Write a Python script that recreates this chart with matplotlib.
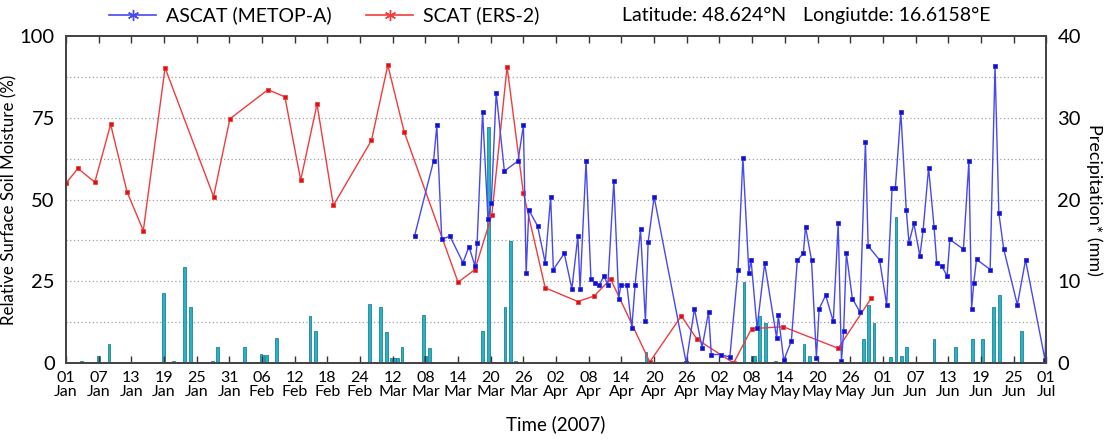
import numpy as np
import matplotlib
matplotlib.use("Agg")
import matplotlib.pyplot as plt
from matplotlib.lines import Line2D

plt.rcParams['font.family'] = ['Lato', 'DejaVu Sans']

# days since 01 Jan 2007
ascat_day = [64.0, 67.5, 68.1, 69.0, 70.5, 72.9, 74.0, 75.1, 75.5, 76.5, 77.5, 78.1,
             79.0, 80.5, 83.0, 84.0, 84.5, 85.0, 86.6, 88.0, 89.0, 89.5, 91.5, 92.9,
             94.0, 94.4, 95.5, 96.4, 97.1, 97.9, 98.8, 99.5, 100.6, 101.5, 101.9, 103.0,
             103.9, 104.5, 105.5, 106.4, 106.9, 108.0, 113.9, 115.4, 116.8, 118.0, 118.5,
             120.2, 121.9, 123.4, 124.3, 125.4, 125.8, 126.9, 128.3, 130.5, 130.8, 131.8,
             133.2, 134.3, 135.4, 135.8, 136.9, 137.8, 138.3, 139.5, 140.9, 141.8, 142.4,
             142.8, 143.3, 144.4, 145.8, 146.8, 147.3, 149.4, 150.7, 151.7, 152.3, 153.3,
             154.3, 154.8, 155.7, 156.8, 157.4, 158.4, 159.4, 159.9, 160.8, 161.8, 162.3,
             164.8, 165.8, 166.3, 166.7, 167.2, 169.7, 170.6, 171.3, 172.2, 174.7, 176.2,
             179.8, 180.3]
ascat_sm = [38.8, 61.8, 72.7, 37.8, 38.8, 30.7, 35.6, 29.7, 36.8, 76.8, 43.9, 49.0,
            82.7, 58.7, 61.8, 72.7, 27.6, 46.8, 41.9, 30.7, 50.8, 28.6, 33.5, 22.7,
            38.8, 22.7, 61.8, 25.6, 24.6, 23.8, 26.6, 23.8, 55.7, 19.7, 23.8, 23.8,
            10.7, 23.8, 40.9, 12.7, 37.0, 50.8, 0.0, 16.6, 4.7, 15.6, 2.6,
            2.6, 1.8, 28.6, 62.8, 27.6, 31.5, 10.7, 30.5, 7.6, 14.6, 0.8,
            6.7, 31.5, 33.5, 41.7, 31.5, 1.6, 16.6, 20.7, 12.7, 42.7, 0.6,
            9.7, 33.5, 19.7, 15.6, 67.6, 35.8, 31.5, 17.8, 53.6, 53.6, 76.8,
            46.8, 36.8, 42.7, 32.7, 40.7, 59.7, 41.7, 30.5, 29.7, 26.6, 37.8,
            34.8, 61.8, 16.6, 24.6, 31.7, 28.6, 90.8, 45.8, 34.8, 17.8, 31.5,
            0.8, 40.0]

scat_day = [0.0, 2.2, 5.3, 8.2, 11.2, 14.2, 18.2, 27.1, 30.1, 37.1, 40.2, 43.1,
            46.1, 49.1, 56.1, 59.1, 62.1, 72.0, 75.1, 78.2, 81.0, 84.0, 88.0, 94.0,
            97.0, 100.0, 107.2, 113.0, 115.9, 122.6, 125.9, 131.7, 141.8, 147.9]
scat_sm = [55.0, 59.5, 55.3, 73.0, 52.4, 40.5, 90.3, 50.9, 74.7, 83.6, 81.4, 55.9,
           79.2, 48.2, 68.1, 91.1, 70.7, 24.7, 28.6, 45.3, 90.6, 51.9, 23.0, 18.8,
           20.5, 25.7, 0.3, 14.4, 7.2, 0.0, 10.5, 11.1, 4.5, 19.9]

prcp_day = [2.8, 6.0, 7.9, 17.9, 19.7, 21.8, 22.9, 26.9, 27.8, 32.8, 35.8, 36.2,
            36.8, 38.7, 44.8, 45.8, 55.7, 57.7, 58.8, 59.7, 60.3, 60.9, 61.7, 65.7,
            66.0, 66.7, 76.5, 77.6, 80.6, 81.6, 82.6, 106.5, 124.5, 126.0, 126.4, 127.4,
            128.5, 130.3, 135.5, 136.5, 146.5, 147.4, 148.4, 151.4, 152.4, 153.4, 154.3,
            159.4, 163.4, 166.4, 168.3, 170.3, 171.4, 175.4]
prcp_mm = [0.2, 0.8, 2.3, 8.6, 0.2, 11.8, 6.8, 0.3, 1.9, 1.9, 1.1, 1.0,
           1.0, 3.1, 5.8, 3.9, 7.2, 6.9, 3.8, 0.6, 0.6, 0.6, 2.0, 5.9,
           0.8, 1.8, 3.9, 28.9, 6.8, 14.9, 0.3, 1.3, 9.9, 0.8, 0.8, 5.8,
           4.9, 0.2, 2.3, 0.9, 2.9, 7.1, 4.9, 0.7, 17.9, 0.9, 1.9,
           2.9, 2.0, 2.9, 2.9, 6.9, 8.3, 3.9]

tick_labels = ['01\nJan', '07\nJan', '13\nJan', '19\nJan', '25\nJan', '31\nJan',
               '06\nFeb', '12\nFeb', '18\nFeb', '24\nFeb', '12\nMar', '08\nMar',
               '14\nMar', '20\nMar', '26\nMar', '02\nApr', '08\nApr', '14\nApr',
               '20\nApr', '26\nApr', '02\nMay', '08\nMay', '14\nMay', '20\nMay',
               '26\nMay', '01\nJun', '07\nJun', '13\nJun', '19\nJun', '25\nJun',
               '01\nJul']

blue = '#4848f0'
red = '#f03c3c'

fig = plt.figure(figsize=(11.07, 4.40), dpi=100)
ax = fig.add_axes([0.0596, 0.175, 0.8855, 0.743])
ax2 = ax.twinx()

# precipitation bars on right axis, drawn beneath the lines
ax2.bar(prcp_day, prcp_mm, width=0.5, color='#22b4cc', edgecolor='#10707f',
        linewidth=0.5, zorder=2)
for v in np.arange(5, 40, 5):
    ax2.axhline(v, color='#a0a0a0', linestyle=(0, (1, 2)), linewidth=0.9, zorder=1)
ax2.set_ylim(0, 40)
ax2.set_yticks([0, 10, 20, 30, 40])
ax2.tick_params(axis='y', length=0, labelsize=14.5, pad=8)
ax2.set_ylabel('Precipitation* (mm)', fontsize=13, rotation=270, labelpad=16)

ax.set_zorder(ax2.get_zorder() + 1)
ax.patch.set_visible(False)

ax.plot(scat_day, scat_sm, color=red, linewidth=1.0, marker='s', markersize=3.2,
        markerfacecolor='#e01010', markeredgecolor='#f04040', markeredgewidth=0.6)
ax.plot(ascat_day, ascat_sm, color=blue, linewidth=1.0, marker='s', markersize=3.2,
        markerfacecolor='#1010c8', markeredgecolor='#3030f0', markeredgewidth=0.6)

ax.set_xlim(0, 180)
ax.set_ylim(0, 100)
ax.set_xticks(np.arange(0, 181, 6))
ax.set_xticklabels(tick_labels, fontsize=11.5, linespacing=0.95)
ax.set_yticks([0, 25, 50, 75, 100])
ax.tick_params(axis='y', length=0, labelsize=14.5, pad=8)
ax.tick_params(axis='x', direction='in', length=5, width=1, top=True, color='#333333', pad=6)
ax.set_ylabel('Relative Surface Soil Moisture (%)', fontsize=12.2, labelpad=2)
ax.set_xlabel('Time (2007)', fontsize=13.5, labelpad=12)

for a in (ax, ax2):
    for s in a.spines.values():
        s.set_color('#444444')
        s.set_linewidth(1.3)

handles = [Line2D([], [], color=blue, marker=(6, 2, 0), markersize=8, linewidth=1.2),
           Line2D([], [], color=red, marker=(6, 2, 0), markersize=8, linewidth=1.2)]
fig.legend(handles, ['ASCAT (METOP-A)', 'SCAT (ERS-2)'], loc='center left',
           bbox_to_anchor=(0.083, 0.965), ncol=2, frameon=False, fontsize=14,
           handlelength=2.4, handletextpad=0.5, columnspacing=1.8)
fig.text(0.562, 0.965, 'Latitude: 48.624°N', fontsize=14, va='center', ha='left')
fig.text(0.725, 0.965, 'Longiutde: 16.6158°E', fontsize=14, va='center', ha='left')

fig.savefig('out.png', dpi=100)
